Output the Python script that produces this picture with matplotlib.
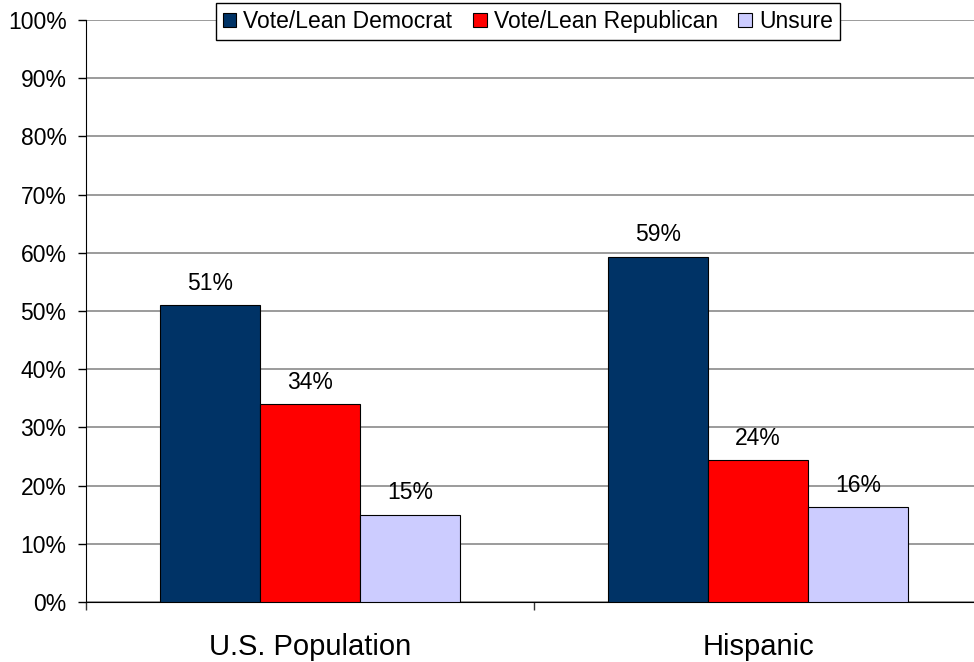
import numpy as np
import matplotlib
matplotlib.use("Agg")
import matplotlib.pyplot as plt
from matplotlib.ticker import FuncFormatter

plt.rcParams['font.family'] = ['Liberation Sans', 'DejaVu Sans']

categories = ["U.S. Population", "Hispanic"]
series_names = ["Vote/Lean Democrat", "Vote/Lean Republican", "Unsure"]
democrat = [51.0, 59.3]
republican = [34.0, 24.4]
unsure = [15.0, 16.3]
colors = ["#003366", "#FF0000", "#CCCCFF"]

fig = plt.figure(figsize=(9.74, 6.62), dpi=100)
# axes runs a little past the right edge of the figure, like the original
ax = fig.add_axes([0.0883, 0.0906, 0.92, 0.8792])

x = np.arange(len(categories))
w = 0.223
for i, (vals, name) in enumerate(zip([democrat, republican, unsure], series_names)):
    pos = x + (i - 1) * w
    ax.bar(pos, vals, width=w, color=colors[i], edgecolor="black", linewidth=0.8,
           label=name, zorder=3)
    for p, v in zip(pos, vals):
        ax.text(p, v + 1.8, f"{v:.0f}%", ha="center", va="bottom", fontsize=16.5)

ax.set_ylim(0, 100)
ax.set_xlim(-0.5, 1.5)
ax.set_yticks(np.arange(0, 101, 10))
ax.yaxis.set_major_formatter(FuncFormatter(lambda v, _: f"{v:.0f}%"))
ax.yaxis.grid(True, color="#808080", linewidth=1.1, zorder=0)
ax.tick_params(axis="y", labelsize=16.5, length=6, direction="out", width=1, pad=8)

ax.set_xticks([-0.5, 0.5, 1.5])
ax.set_xticklabels([])
ax.set_xticks(x, minor=True)
ax.set_xticklabels(categories, minor=True, fontsize=21)
ax.tick_params(axis="x", which="major", length=6, direction="out", width=1, color="#333333")
ax.tick_params(axis="x", which="minor", length=0, pad=22)

for s in ["top", "right"]:
    ax.spines[s].set_visible(False)
ax.spines["left"].set_color("black")
ax.spines["bottom"].set_color("black")

leg = ax.legend(loc="upper center", bbox_to_anchor=(0.493, 1.029), borderaxespad=0,
                ncol=3, fontsize=16.5,
                frameon=True, fancybox=False, edgecolor="black", framealpha=1,
                handlelength=0.6, handleheight=0.6, handletextpad=0.3,
                columnspacing=0.9, borderpad=0.3)
leg.get_frame().set_linewidth(1.0)
leg.set_zorder(5)

fig.savefig("out.png", dpi=100)
